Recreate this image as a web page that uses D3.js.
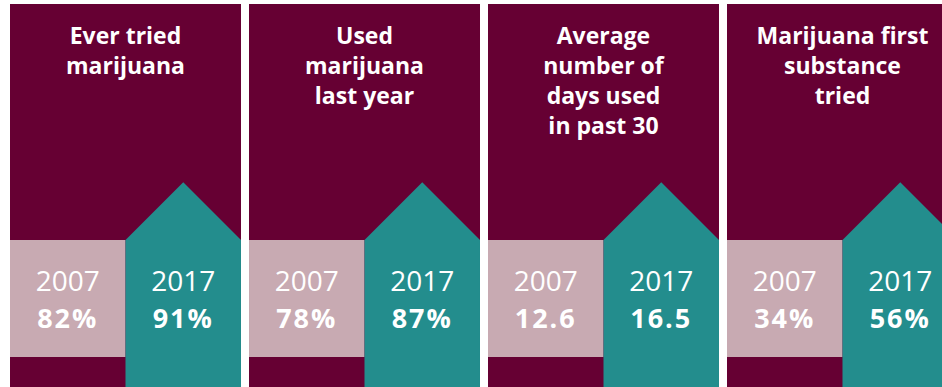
<!DOCTYPE html>
<html>
<head>
<meta charset="utf-8">
<script src="https://cdnjs.cloudflare.com/ajax/libs/d3/7.8.5/d3.min.js"></script>
<style>
  body { margin: 0; background: #fff; }
  svg { display: block; }
</style>
</head>
<body>
<div id="chart"></div>
<script>
// panel titles, one entry per line
var titles = [
  ["Ever tried", "marijuana"],
  ["Used", "marijuana", "last year"],
  ["Average", "number of", "days used", "in past 30"],
  ["Marijuana first", "substance", "tried"]
];
var years = ["2007", "2017"];
var values2007 = [82, 78, 12.6, 34];
var values2017 = [91, 87, 16.5, 56];
var units = ["%", "%", "", "%"];

var width = 942, height = 387;
var maroon = "#660033", pink = "#c8aab2", teal = "#238d8d";

var svg = d3.select("#chart").append("svg")
    .attr("width", width)
    .attr("height", height);

var idx = d3.range(titles.length);

// panels across
var xPanel = d3.scaleBand().domain(idx).range([10, 958]).paddingInner(0.0335).paddingOuter(0);
// the two year columns inside a panel
var xYear = d3.scaleBand().domain(years).range([0, xPanel.bandwidth()]);

var panelTop = 4, boxTop = 240, boxBottom = 357;

var panel = svg.selectAll(".panel")
    .data(idx)
    .enter().append("g")
    .attr("class", "panel")
    .attr("transform", function(d) { return "translate(" + xPanel(d) + ",0)"; });

panel.append("rect")
    .attr("x", 0)
    .attr("y", panelTop)
    .attr("width", xPanel.bandwidth())
    .attr("height", height - panelTop)
    .style("fill", maroon);

// title
panel.append("text")
    .attr("text-anchor", "middle")
    .style("font-family", "'Open Sans', sans-serif")
    .style("font-weight", "bold")
    .style("font-size", "23px")
    .style("fill", "#fff")
    .selectAll("tspan")
    .data(function(d) { return titles[d]; })
    .enter().append("tspan")
    .attr("x", xPanel.bandwidth() / 2)
    .attr("y", function(d, i) { return 44 + i * 30; })
    .text(function(d) { return d; });

// 2007 box
panel.append("rect")
    .attr("x", xYear("2007"))
    .attr("y", boxTop)
    .attr("width", xYear.bandwidth())
    .attr("height", boxBottom - boxTop)
    .style("fill", pink);

// 2017 arrow
panel.append("path")
    .attr("d", function() {
      var x0 = xYear("2017"), w = xYear.bandwidth(), h = w / 2;
      return "M" + x0 + "," + height +
             "V" + boxTop +
             "L" + (x0 + w / 2) + "," + (boxTop - h) +
             "L" + (x0 + w) + "," + boxTop +
             "V" + height + "Z";
    })
    .style("fill", teal);

function fmt(v, i) { return (units[i] ? d3.format("d")(v) : d3.format(".1f")(v)) + units[i]; }

years.forEach(function(yr) {
  var vals = yr == "2007" ? values2007 : values2017;
  var cx = xYear(yr) + xYear.bandwidth() / 2;
  panel.append("text")
      .attr("x", cx)
      .attr("y", 291)
      .attr("text-anchor", "middle")
      .style("font-family", "'Open Sans', sans-serif")
      .style("font-size", "28px")
      .style("fill", "#fff")
      .text(yr);
  panel.append("text")
      .attr("x", cx)
      .attr("y", 328)
      .attr("text-anchor", "middle")
      .style("font-family", "'Open Sans', sans-serif")
      .style("font-weight", "bold")
      .style("font-size", "27px")
      .style("letter-spacing", "2px")
      .style("fill", "#fff")
      .text(function(d) { return fmt(vals[d], d); });
});
</script>
</body>
</html>
